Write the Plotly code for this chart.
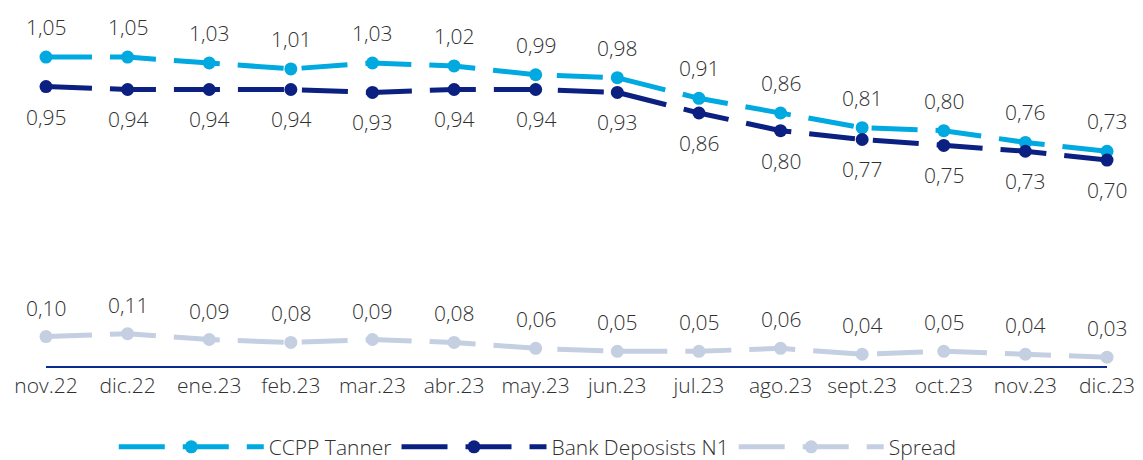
import plotly.graph_objects as go

months = ["nov.22", "dic.22", "ene.23", "feb.23", "mar.23", "abr.23", "may.23",
          "jun.23", "jul.23", "ago.23", "sept.23", "oct.23", "nov.23", "dic.23"]
ccpp = [1.05, 1.05, 1.03, 1.01, 1.03, 1.02, 0.99, 0.98, 0.91, 0.86, 0.81, 0.80, 0.76, 0.73]
bank = [0.95, 0.94, 0.94, 0.94, 0.93, 0.94, 0.94, 0.93, 0.86, 0.80, 0.77, 0.75, 0.73, 0.70]
spread = [0.10, 0.11, 0.09, 0.08, 0.09, 0.08, 0.06, 0.05, 0.05, 0.06, 0.04, 0.05, 0.04, 0.03]

FONT = "Open Sans"
TXT = "#303030"
C_CCPP = "#00a9e0"
C_BANK = "#0b2080"
C_SPREAD = "#c5cfe2"

fig = go.Figure()
series = [("CCPP Tanner", ccpp, C_CCPP, 30),
          ("Bank Deposists N1", bank, C_BANK, -30),
          ("Spread", spread, C_SPREAD, 29)]

for name, vals, col, shift in series:
    fig.add_trace(go.Scatter(
        x=months, y=vals, name=name, mode="lines+markers",
        line=dict(color=col, width=5, dash="46px,18px"),
        marker=dict(color=col, size=13),
        cliponaxis=False,
    ))
    for m, v in zip(months, vals):
        fig.add_annotation(x=m, y=v, text=f"{v:.2f}".replace(".", ","),
                           showarrow=False, yshift=shift,
                           font=dict(family=FONT, size=21, color=TXT, weight=300))

# page has an 8px body margin, so the figure is 8px smaller and margins shifted
fig.update_layout(
    width=1135, height=452,
    margin=dict(l=38, r=36, t=5, b=94, autoexpand=False),
    paper_bgcolor="white", plot_bgcolor="white",
    font=dict(family=FONT, size=21, color=TXT, weight=300),
    showlegend=True,
    legend=dict(orientation="h", x=0.4635, xanchor="center", y=-0.172, yanchor="top",
                font=dict(family=FONT, size=21, color=TXT, weight=300), itemwidth=145,
                traceorder="normal"),
)
fig.update_xaxes(type="category", range=[0, 13], showgrid=False, zeroline=False,
                 showline=True, linecolor="#0b2c8f", linewidth=2, ticks="",
                 tickfont=dict(family=FONT, size=21, color=TXT, weight=300))
fig.update_yaxes(range=[0, 1.2], visible=False, showgrid=False, zeroline=False)

fig.write_html("out.html")
